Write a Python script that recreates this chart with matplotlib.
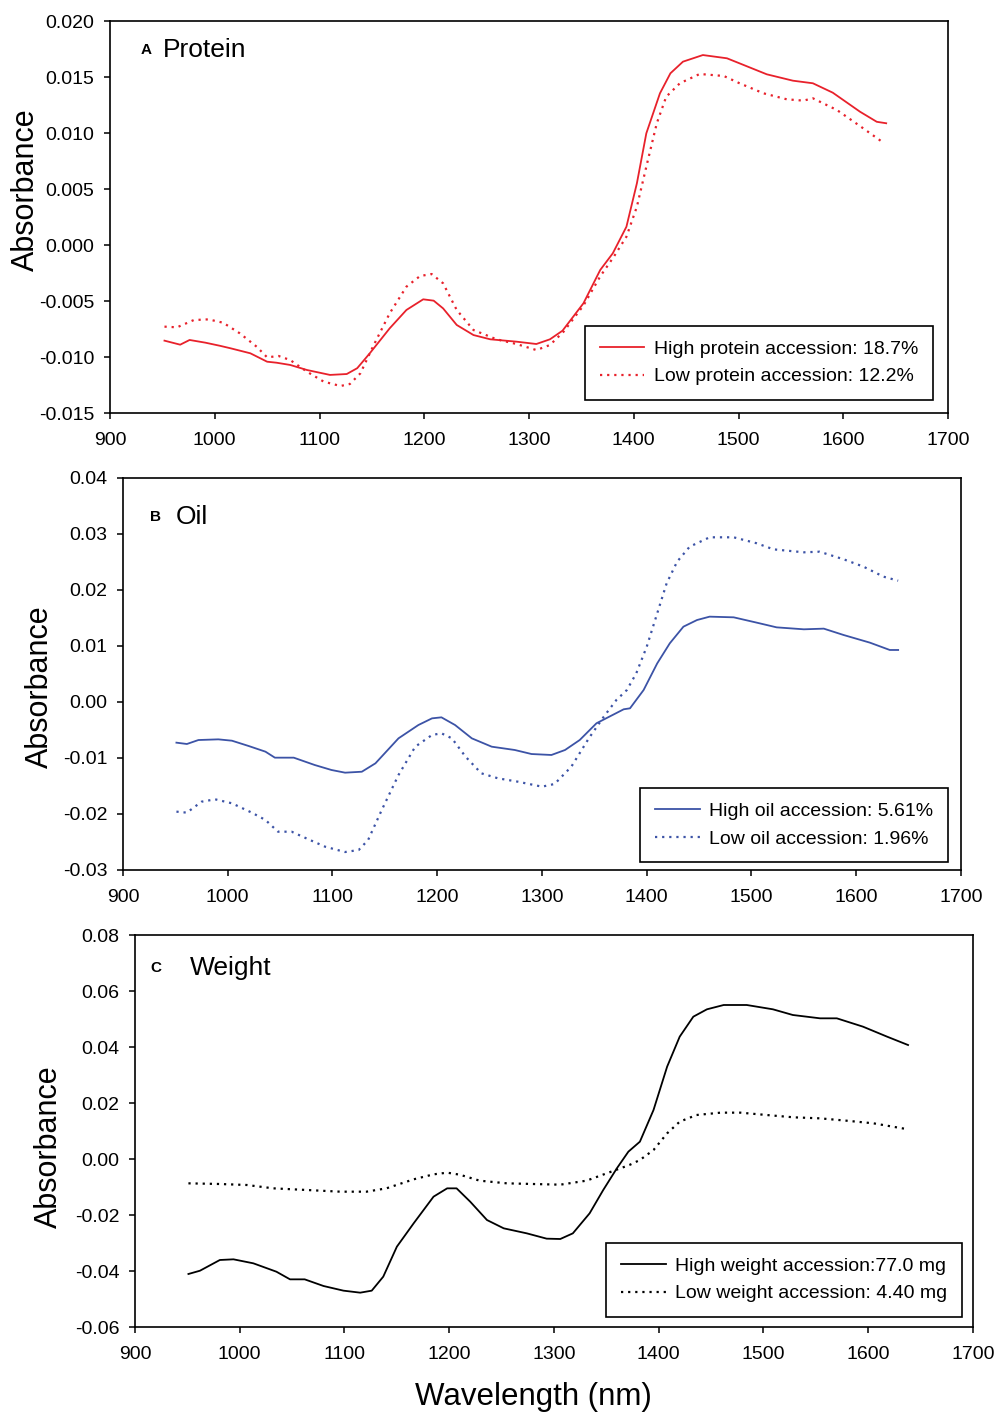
import matplotlib
matplotlib.use("Agg")
import matplotlib.pyplot as plt
import numpy as np

plt.rcParams['font.family'] = ['Liberation Sans', 'DejaVu Sans']
plt.rcParams['axes.unicode_minus'] = False

# ---------------- Data ----------------
# Panel A: Protein
prot_high_wl = [952, 967, 976, 991, 1005, 1015, 1034, 1050, 1059, 1072, 1088, 1110, 1126, 1136,
                1148, 1167, 1183, 1199, 1209, 1218, 1231, 1247, 1263, 1288, 1307, 1320, 1332,
                1352, 1368, 1380, 1393, 1403, 1412, 1425, 1435, 1447, 1466, 1489, 1501, 1527,
                1552, 1571, 1590, 1616, 1632, 1641]
prot_high_val = [-0.00854, -0.00890, -0.00848, -0.00872, -0.00900, -0.00922, -0.00967, -0.01042,
                 -0.01051, -0.01071, -0.01116, -0.01160, -0.01152, -0.01100, -0.00967, -0.00744,
                 -0.00580, -0.00485, -0.00497, -0.00566, -0.00714, -0.00804, -0.00842, -0.00863,
                 -0.00884, -0.00842, -0.00765, -0.00520, -0.00223, -0.00074, 0.00163, 0.00551,
                 0.00997, 0.01354, 0.01533, 0.01637, 0.01696, 0.01667, 0.01622, 0.01524, 0.01467,
                 0.01444, 0.01360, 0.01190, 0.01100, 0.01087]
prot_low_wl = [952, 964, 980, 994, 1008, 1024, 1040, 1050, 1061, 1072, 1088, 1104, 1120, 1129,
               1139, 1151, 1167, 1183, 1196, 1207, 1218, 1231, 1247, 1269, 1288, 1307, 1320,
               1333, 1352, 1368, 1381, 1393, 1403, 1412, 1422, 1431, 1444, 1463, 1486, 1501,
               1524, 1546, 1562, 1571, 1594, 1616, 1637]
prot_low_val = [-0.00729, -0.00735, -0.00670, -0.00664, -0.00694, -0.00789, -0.00908, -0.01003,
                -0.00991, -0.01027, -0.01131, -0.01220, -0.01259, -0.01241, -0.01146, -0.00908,
                -0.00610, -0.00372, -0.00277, -0.00259, -0.00342, -0.00580, -0.00759, -0.00842,
                -0.00884, -0.00938, -0.00893, -0.00774, -0.00540, -0.00280, -0.00104, 0.00074,
                0.00342, 0.00699, 0.01087, 0.01324, 0.01444, 0.01527, 0.01509, 0.01444, 0.01354,
                0.01301, 0.01289, 0.01310, 0.01205, 0.01062, 0.00922]

# Panel B: Oil
oil_high_wl = [951, 961, 972, 991, 1004, 1020, 1036, 1045, 1063, 1083, 1099, 1112, 1128, 1141,
               1163, 1182, 1195, 1204, 1217, 1233, 1252, 1274, 1290, 1309, 1322, 1336, 1352,
               1378, 1384, 1397, 1410, 1422, 1435, 1448, 1460, 1483, 1505, 1524, 1550, 1569,
               1588, 1613, 1632, 1640]
oil_high_val = [-0.00726, -0.00750, -0.00679, -0.00667, -0.00691, -0.00786, -0.00887, -0.00994,
                -0.00994, -0.01125, -0.01214, -0.01262, -0.01245, -0.01095, -0.00649, -0.00411,
                -0.00292, -0.00274, -0.00411, -0.00649, -0.00798, -0.00857, -0.00929, -0.00946,
                -0.00857, -0.00679, -0.00380, -0.00130, -0.00113, 0.00214, 0.00690, 0.01048,
                0.01345, 0.01464, 0.01524, 0.01512, 0.01417, 0.01333, 0.01298, 0.01310, 0.01196,
                0.01060, 0.00929, 0.00929]
oil_low_wl = [951, 961, 975, 988, 1004, 1023, 1036, 1048, 1061, 1077, 1093, 1112, 1125, 1134,
              1147, 1163, 1179, 1195, 1204, 1214, 1227, 1242, 1258, 1277, 1300, 1312, 1328,
              1345, 1359, 1371, 1381, 1390, 1400, 1410, 1419, 1429, 1441, 1460, 1483, 1505,
              1521, 1550, 1565, 1588, 1607, 1626, 1640]
oil_low_val = [-0.01958, -0.01976, -0.01780, -0.01738, -0.01809, -0.01976, -0.02107, -0.02316,
               -0.02316, -0.02452, -0.02584, -0.02679, -0.02643, -0.02464, -0.01929, -0.01304,
               -0.00798, -0.00589, -0.00559, -0.00649, -0.00976, -0.01273, -0.01363, -0.01423,
               -0.01512, -0.01464, -0.01155, -0.00640, -0.00262, 0.00036, 0.00214, 0.00512,
               0.00988, 0.01584, 0.02120, 0.02506, 0.02774, 0.02941, 0.02941, 0.02834, 0.02726,
               0.02673, 0.02684, 0.02548, 0.02416, 0.02238, 0.02166]

# Panel C: Weight
wt_high_wl = [951, 962, 981, 994, 1013, 1035, 1048, 1062, 1080, 1099, 1115, 1126, 1137, 1150,
              1166, 1185, 1198, 1207, 1220, 1236, 1252, 1274, 1293, 1306, 1318, 1334, 1347,
              1360, 1371, 1382, 1395, 1408, 1420, 1433, 1446, 1462, 1484, 1509, 1528, 1554,
              1570, 1595, 1618, 1638]
wt_high_val = [-0.04107, -0.03990, -0.03607, -0.03583, -0.03726, -0.04025, -0.04298, -0.04298,
               -0.04536, -0.04702, -0.04774, -0.04702, -0.04202, -0.03131, -0.02298, -0.01345,
               -0.01048, -0.01048, -0.01524, -0.02179, -0.02476, -0.02655, -0.02845, -0.02857,
               -0.02655, -0.01940, -0.01107, -0.00333, 0.00262, 0.00619, 0.01750, 0.03298,
               0.04369, 0.05083, 0.05346, 0.05500, 0.05500, 0.05346, 0.05143, 0.05024, 0.05024,
               0.04726, 0.04369, 0.04071]
wt_low_wl = [951, 981, 1007, 1032, 1064, 1096, 1121, 1140, 1166, 1185, 1198, 1210, 1229, 1255,
             1280, 1306, 1331, 1357, 1372, 1382, 1395, 1408, 1420, 1436, 1459, 1478, 1503,
             1529, 1554, 1579, 1605, 1638]
wt_low_val = [-0.00869, -0.00893, -0.00929, -0.01048, -0.01107, -0.01167, -0.01167, -0.01048,
              -0.00726, -0.00548, -0.00488, -0.00560, -0.00774, -0.00869, -0.00893, -0.00917,
              -0.00774, -0.00420, -0.00214, -0.00036, 0.00321, 0.00917, 0.01333, 0.01571,
              0.01655, 0.01655, 0.01571, 0.01488, 0.01452, 0.01369, 0.01274, 0.01060]

x_ticks = [900, 1000, 1100, 1200, 1300, 1400, 1500, 1600, 1700]
yticks_A = [-0.015, -0.010, -0.005, 0.000, 0.005, 0.010, 0.015, 0.020]
yticks_B = [-0.03, -0.02, -0.01, 0.00, 0.01, 0.02, 0.03, 0.04]
yticks_C = [-0.06, -0.04, -0.02, 0.00, 0.02, 0.04, 0.06, 0.08]

# ---------------- Figure ----------------
W, H = 998, 1413
fig = plt.figure(figsize=(W / 100, H / 100), dpi=100)

def px_axes(l, t, r, b):
    return fig.add_axes([l / W, 1 - b / H, (r - l) / W, (b - t) / H])

RED = '#e8212b'
BLUE = '#3c53a6'
BLACK = '#000000'
dotted = (0, (1.0, 2.2))

panels = [
    dict(box=(110, 21, 948, 413), ylim=(-0.015, 0.020), yticks=yticks_A, fmt='{:.3f}',
         letter='A', title='Protein', lx=0.043, ly=0.927, tx=0.063, color=RED,
         hi=(prot_high_wl, prot_high_val), lo=(prot_low_wl, prot_low_val),
         labels=('High protein accession: 18.7%', 'Low protein accession: 12.2%'),
         leg=(0.982, 0.033), ylab=(-0.082, 0.569)),
    dict(box=(123, 478, 961, 870), ylim=(-0.03, 0.04), yticks=yticks_B, fmt='{:.2f}',
         letter='B', title='Oil', lx=0.039, ly=0.900, tx=0.063, color=BLUE,
         hi=(oil_high_wl, oil_high_val), lo=(oil_low_wl, oil_low_val),
         labels=('High oil accession: 5.61%', 'Low oil accession: 1.96%'),
         leg=(0.9845, 0.020), ylab=(-0.081, 0.467)),
    dict(box=(135, 935, 973, 1327), ylim=(-0.06, 0.08), yticks=yticks_C, fmt='{:.2f}',
         letter='C', title='Weight', lx=0.025, ly=0.915, tx=0.066, color=BLACK,
         hi=(wt_high_wl, wt_high_val), lo=(wt_low_wl, wt_low_val),
         labels=('High weight accession:77.0 mg', 'Low weight accession: 4.40 mg'),
         leg=(0.987, 0.0255), ylab=(-0.085, 0.459)),
]

axes = []
for p in panels:
    ax = px_axes(*p['box'])
    axes.append(ax)
    ax.plot(p['hi'][0], p['hi'][1], color=p['color'], lw=1.3, linestyle='-', label=p['labels'][0])
    ax.plot(p['lo'][0], p['lo'][1], color=p['color'], lw=1.6, linestyle=dotted, label=p['labels'][1])
    ax.set_xlim(900, 1700)
    ax.set_ylim(*p['ylim'])
    ax.set_xticks(x_ticks)
    ax.set_xticklabels([str(v) for v in x_ticks])
    ax.set_yticks(p['yticks'])
    ax.set_yticklabels([p['fmt'].format(v) if abs(v) > 1e-12 else p['fmt'].format(0.0) for v in p['yticks']])
    ax.tick_params(axis='both', direction='out', length=4.5, width=1.1, labelsize=14,
                   top=False, right=False, colors='black')
    ax.tick_params(axis='y', pad=6.6)
    ax.tick_params(axis='x', pad=9.3)
    for s in ax.spines.values():
        s.set_linewidth(1.2)
    ax.set_ylabel('Absorbance', fontsize=22)
    ax.yaxis.set_label_coords(*p['ylab'])
    ax.text(p['lx'], p['ly'], p['letter'], transform=ax.transAxes, fontsize=11,
            fontweight='bold', ha='center', va='center')
    ax.text(p['tx'], p['ly'], p['title'], transform=ax.transAxes, fontsize=19,
            ha='left', va='center')
    leg = ax.legend(loc='lower right', bbox_to_anchor=p['leg'], fontsize=14,
                    frameon=True, fancybox=False, edgecolor='black', framealpha=1,
                    handlelength=2.3, handletextpad=0.5, borderpad=0.75,
                    labelspacing=0.5, borderaxespad=0.0)
    leg.get_frame().set_linewidth(1.2)

axes[2].set_xlabel('Wavelength (nm)', fontsize=22.5)
axes[2].xaxis.set_label_coords(0.475, -0.14)

fig.savefig('out.png', dpi=100)
